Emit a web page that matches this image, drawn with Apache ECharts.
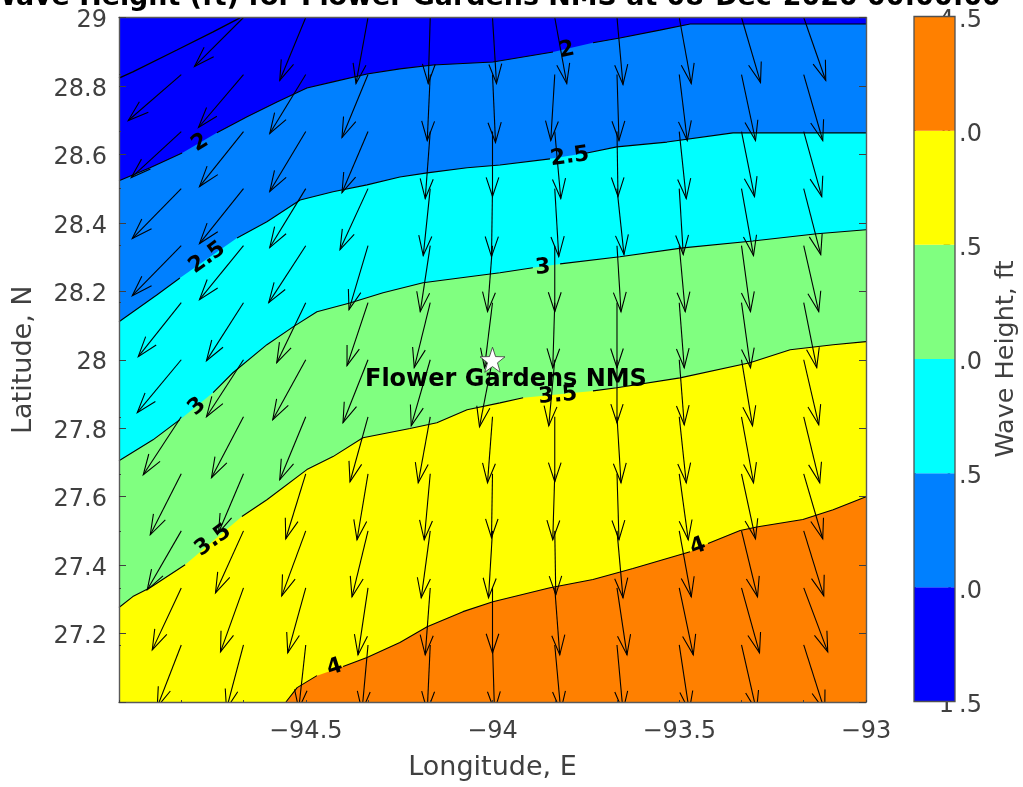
<!DOCTYPE html>
<html><head><meta charset="utf-8">
<style>html,body{margin:0;padding:0;background:#fff;overflow:hidden}#c{width:1023px;height:787px}</style>
<script src="https://cdn.jsdelivr.net/npm/echarts@6/dist/echarts.min.js"></script>
</head><body><div id="c"></div>
<script>
// Contour lines of wave height (ft)
const c15Lon=[-95,-94.963,-94.845,-94.748,-94.676];
const c15Lat=[28.823,28.841,28.905,28.958,28.999];
const c20Lon=[-95,-94.917,-94.831,-94.738,-94.657,-94.577,-94.497,-94.427,-94.336,-94.248,-94.159,-93.999,-93.838,-93.731,-93.659,-93.552,-93.471,-93];
const c20Lat=[28.523,28.561,28.604,28.663,28.710,28.753,28.794,28.812,28.835,28.850,28.861,28.870,28.899,28.926,28.940,28.963,28.981,28.981];
const c25Lon=[-95,-94.898,-94.837,-94.684,-94.604,-94.515,-94.427,-94.336,-94.248,-94.175,-94.068,-93.980,-93.846,-93.747,-93.667,-93.533,-93.356,-93];
const c25Lat=[28.111,28.190,28.239,28.356,28.403,28.467,28.491,28.511,28.534,28.546,28.561,28.569,28.587,28.604,28.622,28.636,28.663,28.663];
const c30Lon=[-95,-94.909,-94.837,-94.748,-94.695,-94.604,-94.534,-94.470,-94.382,-94.293,-94.186,-94.068,-93.980,-93.892,-93.819,-93.659,-93.490,-93.303,-93.131,-93];
const c30Lat=[27.705,27.766,27.825,27.904,27.962,28.044,28.096,28.140,28.166,28.196,28.225,28.242,28.254,28.269,28.280,28.301,28.327,28.347,28.368,28.380];
const c35Lon=[-95,-94.963,-94.917,-94.823,-94.671,-94.604,-94.497,-94.427,-94.347,-94.221,-94.149,-94.068,-93.980,-93.918,-93.731,-93.667,-93.498,-93.311,-93.203,-93.088,-93];
const c35Lat=[27.276,27.308,27.334,27.401,27.542,27.591,27.679,27.717,27.772,27.799,27.816,27.854,27.874,27.889,27.909,27.918,27.947,27.991,28.029,28.044,28.053];
const c40Lon=[-94.553,-94.523,-94.470,-94.400,-94.336,-94.248,-94.175,-94.079,-93.999,-93.846,-93.731,-93.624,-93.471,-93.423,-93.337,-93.289,-93.169,-93.088,-93];
const c40Lat=[27.0,27.042,27.077,27.104,27.130,27.174,27.220,27.264,27.293,27.334,27.358,27.390,27.439,27.463,27.501,27.512,27.533,27.562,27.600];
// index after which the contour line breaks for its inline label
const c15Gaps=[], c20Gaps=[2,12], c25Gaps=[2,12], c30Gaps=[2,13], c35Gaps=[3,13], c40Gaps=[2,12];

// Inline contour labels
const clabelText=['2','2','2.5','2.5','3','3','3.5','3.5','4','4'];
const clabelLon=[-94.783,-93.801,-94.764,-93.793,-94.791,-93.865,-94.748,-93.825,-94.422,-93.450];
const clabelLat=[28.634,28.905,28.298,28.593,27.863,28.269,27.472,27.895,27.101,27.454];
const clabelRot=[32,12,36,8,42,5,36,5,18,20];

// Colour bands
const bandEdges=[1.5,2,2.5,3,3.5,4,4.5];
const bandColors=['#0000ff','#0080ff','#00ffff','#80ff80','#ffff00','#ff8000'];

// Wave vector grid: columns of longitude, rows of latitude
const vecLon=[-94.8333,-94.6667,-94.5,-94.3333,-94.1667,-94,-93.8333,-93.6667,-93.5,-93.3333,-93.1667];
const vecLat=[29,28.8333,28.6667,28.5,28.3333,28.1667,28,27.8333,27.6667,27.5,27.3333,27.1667];
const vecU=[
 [null,-53,-50,-49,-49,-43,-44,-38,-31,-34,-29,-24],
 [-49,-45,-44,-44,-44,-37,-37,-32,-25,-28,-23,-17],
 [-26,-36,-36,-36,-37,-29,-33,-26,-20,-24,-18,-7],
 [-12,-26,-26,-28,-19,-21,-25,-18,-11,-16,-10,-6],
 [-2,-3,-5,-7,-10,-16,-19,-12,-6,-9,-5,-3],
 [4,3,0,-1,-5,-8,-13,-5,-1,-4,0,2],
 [12,-4,6,4,0,-2,-6,0,-2,1,5,6],
 [6,2,1,7,4,0,0,4,2,6,10,6],
 [12,8,7,4,6,5,5,7,9,12,14,10],
 [19,14,13,12,9,9,11,12,14,16,18,15],
 [22,19,18,17,15,13,15,16,19,20,24,21]];
const vecV=[
 [null,-46,-46,-50,-50,-54,-53,-58,-61,-59,-62,-62],
 [-49,-53,-55,-55,-54,-58,-57,-61,-59,-62,-64,-64],
 [-63,-59,-60,-59,-57,-60,-60,-63,-65,-65,-65,-64],
 [-66,-63,-61,-61,-64,-63,-63,-65,-66,-66,-67,-66],
 [-66,-66,-67,-67,-66,-65,-66,-66,-66,-67,-67,-66],
 [-66,-68,-65,-68,-66,-65,-67,-66,-64,-67,-65,-66],
 [-66,-66,-67,-68,-66,-65,-66,-65,-66,-64,-67,-66],
 [-67,-66,-65,-66,-66,-65,-63,-66,-66,-67,-67,-66],
 [-66,-66,-67,-66,-66,-65,-65,-66,-66,-66,-67,-66],
 [-65,-66,-65,-67,-66,-65,-66,-66,-65,-66,-65,-66],
 [-63,-66,-65,-66,-66,-65,-65,-66,-65,-65,-64,-66]];
const vecScaleLon=1/373.5, vecScaleLat=1/342.5;

// Site marker
const siteLon=[-94], siteLat=[28];
const siteName='Flower Gardens NMS', siteNameLon=-93.964, siteNameLat=27.941;

const titleText='Wave Height (ft) for Flower Gardens NMS at 08-Dec-2020 00:00:00';
const xName='Longitude, E', yName='Latitude, N', cbName='Wave Height, ft';

const FONT='"DejaVu Sans"', INK='#404040';
const tickFont=24;
const noBorder={textBorderWidth:0,textBorderColor:'transparent',textShadowBlur:0,opacity:1};

const zip=(a,b)=>a.map((v,i)=>[v,b[i]]);
const contours=[
 {lon:c15Lon,lat:c15Lat,gaps:c15Gaps,fill:null},
 {lon:c20Lon,lat:c20Lat,gaps:c20Gaps,fill:bandColors[1]},
 {lon:c25Lon,lat:c25Lat,gaps:c25Gaps,fill:bandColors[2]},
 {lon:c30Lon,lat:c30Lat,gaps:c30Gaps,fill:bandColors[3]},
 {lon:c35Lon,lat:c35Lat,gaps:c35Gaps,fill:bandColors[4]},
 {lon:c40Lon,lat:c40Lat,gaps:c40Gaps,fill:bandColors[5]}];

const series=[];
contours.forEach(c=>{
  if(!c.fill) return;
  series.push({type:'line',xAxisIndex:0,yAxisIndex:0,z:2,silent:true,symbol:'none',
    data:zip(c.lon,c.lat),lineStyle:{width:0,opacity:0},
    areaStyle:{color:c.fill,opacity:1,origin:'start'}});
});
// vectors
const vecData=[];
vecLon.forEach((lon,i)=>vecLat.forEach((lat,j)=>{
  if(vecU[i][j]!==null) vecData.push([lon,lat,vecU[i][j],vecV[i][j]]);
}));
series.push({type:'custom',xAxisIndex:0,yAxisIndex:0,z:3,silent:true,clip:true,data:vecData,
  renderItem(p,api){
    const lon=api.value(0),lat=api.value(1),u=api.value(2),v=api.value(3);
    const a=api.coord([lon,lat]),b=api.coord([lon+u*vecScaleLon,lat+v*vecScaleLat]);
    const dx=b[0]-a[0],dy=b[1]-a[1],L=Math.hypot(dx,dy),h=0.31*L,ang=Math.atan2(dy,dx),s=0.32;
    const c1=[b[0]-h*Math.cos(ang-s),b[1]-h*Math.sin(ang-s)],c2=[b[0]-h*Math.cos(ang+s),b[1]-h*Math.sin(ang+s)];
    const st={stroke:'#000',lineWidth:1.1,fill:null};
    return {type:'group',children:[
      {type:'polyline',shape:{points:[a,b]},style:st},
      {type:'polyline',shape:{points:[c1,b,c2]},style:st}]};
  }});
// contour strokes
contours.forEach((c,k)=>{
  const d=[];
  c.lon.forEach((x,i)=>{d.push([x,c.lat[i]]); if(c.gaps.includes(i)) d.push(['-','-']);});
  series.push({type:'line',xAxisIndex:0,yAxisIndex:0,z:4,silent:true,symbol:'none',connectNulls:false,
    data:d,lineStyle:{color:'#000',width:k===0?1.3:1.1}});
});
// contour labels
series.push({type:'scatter',xAxisIndex:0,yAxisIndex:0,z:5,silent:true,symbolSize:1,itemStyle:{color:'transparent'},
  data:clabelText.map((t,i)=>({value:[clabelLon[i],clabelLat[i]],
    label:Object.assign({show:true,position:'inside',formatter:t,rotate:clabelRot[i],color:'#000',
      fontFamily:FONT,fontWeight:'bold',fontSize:22,align:'center',verticalAlign:'middle'},noBorder)}))});
// star + name
series.push({type:'scatter',xAxisIndex:0,yAxisIndex:0,z:6,silent:true,
  symbol:'path://M0,-10 L2.35,-3.24 L9.51,-3.09 L3.8,1.24 L5.88,8.09 L0,4 L-5.88,8.09 L-3.8,1.24 L-9.51,-3.09 L-2.35,-3.24 Z',
  symbolSize:25,itemStyle:{color:'#fff',borderColor:'#333',borderWidth:0.8,opacity:1},data:zip(siteLon,siteLat)});
series.push({type:'scatter',xAxisIndex:0,yAxisIndex:0,z:6,silent:true,symbolSize:1,itemStyle:{color:'transparent'},
  data:[{value:[siteNameLon,siteNameLat],label:Object.assign({show:true,position:'inside',formatter:siteName,color:'#000',
    fontFamily:FONT,fontWeight:'bold',fontSize:24,align:'center',verticalAlign:'middle'},noBorder)}]});
// colour bar
series.push({type:'custom',xAxisIndex:2,yAxisIndex:2,z:3,silent:true,clip:false,
  data:bandColors.map((col,i)=>[bandEdges[i],bandEdges[i+1],i]),
  renderItem(p,api){
    const lo=api.coord([0,api.value(0)]),hi=api.coord([1,api.value(1)]);
    return {type:'rect',shape:{x:lo[0],y:hi[1],width:hi[0]-lo[0],height:lo[1]-hi[1]},
      style:{fill:bandColors[api.value(2)],stroke:null}};
  }});
series.push({type:'custom',xAxisIndex:2,yAxisIndex:2,z:4,silent:true,clip:false,data:[[bandEdges[0],bandEdges[6]]],
  renderItem(p,api){
    const lo=api.coord([0,api.value(0)]),hi=api.coord([1,api.value(1)]);
    return {type:'rect',shape:{x:lo[0],y:hi[1],width:hi[0]-lo[0],height:lo[1]-hi[1]},
      style:{fill:null,stroke:'#505050',lineWidth:1.3}};
  }});

const axisLbl={color:INK,fontFamily:FONT,fontSize:tickFont};
const nameSt={color:INK,fontFamily:FONT,fontSize:27};
const mainLine={show:true,onZero:false,lineStyle:{color:'#5a5a5a',width:1.4}};
const option={
  animation:false,backgroundColor:'#fff',
  title:{text:titleText,left:489,textAlign:'center',top:-20,
    textStyle:{color:'#000',fontFamily:FONT,fontWeight:'bold',fontSize:26.9}},
  grid:[
    {left:119,width:747,top:17.5,height:684.5,show:true,backgroundColor:bandColors[0],borderWidth:0,containLabel:false,outerBoundsMode:'none'},
    {left:914,width:41,top:16.5,height:685,show:false,containLabel:false,outerBoundsMode:'none'}],
  xAxis:[
    {type:'value',gridIndex:0,min:-95,max:-93,interval:0.5,position:'bottom',z:7,
     axisLine:mainLine,axisTick:{show:true,inside:true,length:2,customValues:[-95].concat(vecLon,[-93]),lineStyle:{color:INK}},splitLine:{show:false},
     axisLabel:Object.assign({margin:18,formatter:v=>v===-95?'':String(v).replace('-','\u2212')},axisLbl),
     name:xName,nameLocation:'middle',nameGap:52,nameTextStyle:nameSt},
    {type:'value',gridIndex:0,min:-95,max:-93,interval:0.5,position:'top',z:7,
     axisLine:mainLine,axisTick:{show:false},axisLabel:{show:false},splitLine:{show:false}},
    {type:'value',gridIndex:1,min:0,max:1,show:false}],
  yAxis:[
    {type:'value',gridIndex:0,min:27,max:29,interval:0.2,position:'left',z:7,
     axisLine:mainLine,axisTick:{show:true,inside:true,length:7,lineStyle:{color:INK}},splitLine:{show:false},
     axisLabel:Object.assign({margin:12,padding:[7,0,0,0],
       formatter:v=>v===27?'':'{v|'+String(+v.toFixed(1))+'}',
       rich:{v:{color:INK,fontFamily:FONT,fontSize:tickFont}}},axisLbl),
     name:yName,nameLocation:'middle',nameGap:82,nameTextStyle:nameSt},
    {type:'value',gridIndex:0,min:27,max:29,interval:0.2,position:'right',z:7,
     axisLine:mainLine,axisTick:{show:true,inside:true,length:7,lineStyle:{color:INK}},axisLabel:{show:false},splitLine:{show:false}},
    {type:'value',gridIndex:1,min:1.5,max:4.5,interval:0.5,position:'right',z:0,
     axisLine:{show:false},axisTick:{show:true,length:2,lineStyle:{color:INK}},splitLine:{show:false},
     axisLabel:Object.assign({margin:27,align:'right',padding:[8,0,0,0],
       formatter:v=>{const s=v.toFixed(1);return '{d|'+s[0]+'}{f|'+s.slice(1)+'}';},
       rich:{d:{color:INK,fontFamily:FONT,fontSize:tickFont,padding:[0,5,0,0]},f:{color:INK,fontFamily:FONT,fontSize:tickFont}}},axisLbl),
     name:cbName,nameLocation:'middle',nameGap:38,nameTextStyle:{color:INK,fontFamily:FONT,fontSize:25.5}},
    {type:'value',gridIndex:0,min:27,max:29,interval:0.2,position:'left',z:7,
     axisLine:{show:false},axisLabel:{show:false},splitLine:{show:false},
     axisTick:{show:true,inside:true,length:2,customValues:vecLat,lineStyle:{color:INK}}}],
  series
};
const chart=echarts.init(document.getElementById('c'),null,{renderer:'canvas',width:1023,height:787});
chart.setOption(option);
</script></body></html>
